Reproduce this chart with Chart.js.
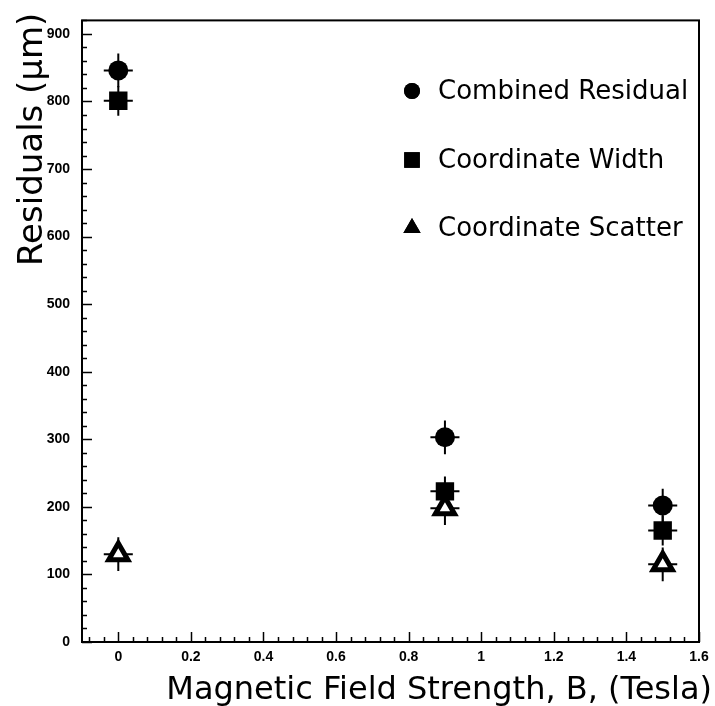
<!DOCTYPE html>
<html>
<head>
<meta charset="utf-8">
<script src="https://cdn.jsdelivr.net/npm/chart.js@4"></script>
<style>
  body { margin: 0; background: #fff; }
  #wrap { width: 715px; height: 706px; }
</style>
</head>
<body>
<div id="wrap"><canvas id="grafico"></canvas></div>
<script>
// field values (Tesla)
const fieldB = [0, 0.9, 1.5];
// residuals in micrometres
const combinedResidual = [846, 303, 202];
const coordinateWidth = [801, 223, 165];
const coordinateScatter = [130, 198, 115];
// error bar half sizes
const combinedErr = [25, 25, 25];
const widthErr = [22, 22, 22];
const scatterErr = [25, 25, 25];
const fieldErr = [0.04, 0.04, 0.04];

const seriesLabels = ['Combined Residual', 'Coordinate Width', 'Coordinate Scatter'];
const xTicks = [0, 0.2, 0.4, 0.6, 0.8, 1, 1.2, 1.4, 1.6];
const yTicks = [0, 100, 200, 300, 400, 500, 600, 700, 800, 900];

const toPoints = (vals, errs) => fieldB.map((b, i) => ({ x: b, y: vals[i], ey: errs[i], ex: fieldErr[i] }));

// error bars, inward ticks, frame, legend and axis titles
const decor = {
  id: 'decor',
  beforeDatasetsDraw(chart) {
    const ctx = chart.ctx;
    const xs = chart.scales.x, ys = chart.scales.y;
    ctx.save();
    ctx.strokeStyle = '#000';
    ctx.lineWidth = 2;
    chart.data.datasets.forEach(ds => {
      ds.data.forEach(p => {
        const px = xs.getPixelForValue(p.x), py = ys.getPixelForValue(p.y);
        ctx.beginPath();
        ctx.moveTo(px, ys.getPixelForValue(p.y - p.ey));
        ctx.lineTo(px, ys.getPixelForValue(p.y + p.ey));
        ctx.moveTo(xs.getPixelForValue(p.x - p.ex), py);
        ctx.lineTo(xs.getPixelForValue(p.x + p.ex), py);
        ctx.stroke();
      });
    });
    ctx.restore();
  },
  afterDraw(chart) {
    const ctx = chart.ctx;
    const a = chart.chartArea;
    const xs = chart.scales.x, ys = chart.scales.y;
    ctx.save();
    ctx.strokeStyle = '#000';
    ctx.lineWidth = 2;
    ctx.strokeRect(a.left, a.top, a.right - a.left, a.bottom - a.top);

    ctx.lineWidth = 1.5;
    ctx.beginPath();
    for (let v = 0; v <= 920; v += 20) {
      const py = Math.round(ys.getPixelForValue(v)) + 0.5;
      const len = v % 100 === 0 ? 10 : 5;
      ctx.moveTo(a.left, py);
      ctx.lineTo(a.left + len, py);
    }
    for (let k = -2; k <= 40; k++) {
      const v = k * 0.04;
      const px = Math.round(xs.getPixelForValue(v)) + 0.5;
      const len = k % 5 === 0 ? 10 : 5;
      ctx.moveTo(px, a.bottom);
      ctx.lineTo(px, a.bottom - len);
    }
    ctx.stroke();

    // legend
    const rows = [91, 160, 228];
    const legendSize = { circle: 8, rect: 11, triangle: 10 };
    ctx.fillStyle = '#000';
    ctx.textBaseline = 'middle';
    ctx.textAlign = 'left';
    ctx.font = '26px "DejaVu Sans"';
    chart.data.datasets.forEach((ds, i) => {
      Chart.helpers.drawPoint(ctx, { pointStyle: ds.pointStyle, radius: legendSize[ds.pointStyle], borderWidth: 0 }, 412, rows[i]);
      ctx.fill();
      ctx.fillText(ds.label, 438, rows[i] + 1);
    });

    // axis titles
    ctx.font = '32px "DejaVu Sans"';
    ctx.textAlign = 'right';
    ctx.textBaseline = 'alphabetic';
    ctx.fillText('Magnetic Field Strength, B, (Tesla)', 712, 699);

    ctx.font = '34px "DejaVu Sans"';
    ctx.translate(42, 266);
    ctx.rotate(-Math.PI / 2);
    ctx.textAlign = 'left';
    ctx.fillText('Residuals (\u03BCm)', 0, 0);
    ctx.restore();
  }
};

const grafico = document.getElementById('grafico');
const tickFont = { family: '"Liberation Sans"', size: 14, weight: 'bold' };

new Chart(grafico, {
  type: 'scatter',
  data: {
    datasets: [
      {
        label: seriesLabels[0],
        data: toPoints(combinedResidual, combinedErr),
        pointStyle: 'circle',
        pointRadius: 10,
        backgroundColor: '#000',
        borderColor: '#000',
        borderWidth: 0
      },
      {
        label: seriesLabels[1],
        data: toPoints(coordinateWidth, widthErr),
        pointStyle: 'rect',
        pointRadius: 13,
        backgroundColor: '#000',
        borderColor: '#000',
        borderWidth: 0
      },
      {
        label: seriesLabels[2],
        data: toPoints(coordinateScatter, scatterErr),
        pointStyle: 'triangle',
        pointRadius: 11,
        backgroundColor: '#fff',
        borderColor: '#000',
        borderWidth: 5
      }
    ]
  },
  options: {
    responsive: true,
    maintainAspectRatio: false,
    animation: false,
    layout: { padding: { top: 9, right: 9, left: 0, bottom: 0 } },
    plugins: {
      legend: { display: false },
      tooltip: { enabled: false }
    },
    scales: {
      x: {
        type: 'linear',
        min: -0.1,
        max: 1.6,
        grid: { display: false, drawTicks: false },
        border: { display: false },
        afterFit(scale) {
          scale.height = 64;
          scale.paddingLeft = 0;
          scale.paddingRight = 0;
        },
        afterBuildTicks(scale) { scale.ticks = xTicks.map(v => ({ value: v })); },
        ticks: {
          autoSkip: false,
          maxRotation: 0,
          padding: 7,
          color: '#000',
          font: tickFont,
          callback: v => String(v)
        }
      },
      y: {
        type: 'linear',
        min: 0,
        max: 920,
        grid: { display: false, drawTicks: false },
        border: { display: false },
        afterFit(scale) { scale.width = 82; },
        afterBuildTicks(scale) { scale.ticks = yTicks.map(v => ({ value: v })); },
        ticks: {
          autoSkip: false,
          padding: 12,
          color: '#000',
          font: tickFont,
          callback: v => String(v)
        }
      }
    }
  },
  plugins: [decor]
});
</script>
</body>
</html>
